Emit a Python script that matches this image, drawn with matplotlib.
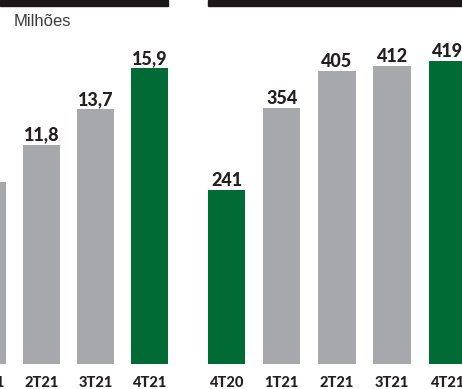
import matplotlib.pyplot as plt
from matplotlib.patches import Rectangle

# left chart (values in millions)
left_cats = ["1T21", "2T21", "3T21", "4T21"]
left_vals = [9.8, 11.8, 13.7, 15.9]
left_pos = [1, 2, 3, 4]
left_labels = ["", "11,8", "13,7", "15,9"]  # 1T21 value is cut off in the source

# right chart
right_cats = ["4T20", "1T21", "2T21", "3T21", "4T21"]
right_vals = [241, 354, 405, 412, 419]
right_pos = [0, 1, 2, 3, 4]
right_labels = ["241", "354", "405", "412", "419"]

GREEN = "#006b35"
GRAY = "#a7a8ab"
TXT = "#231f20"

plt.rcParams['font.family'] = ['Lato', 'DejaVu Sans']

W, H = 462, 389
fig = plt.figure(figsize=(W / 100, H / 100), dpi=100)

bottom = (H - 364) / H


def draw(ax, pos, vals, cats, labels, greens, ylim):
    cols = [GREEN if c in greens else GRAY for c in cats]
    ax.bar(pos, vals, width=0.68, color=cols)
    ax.set_ylim(0, ylim)
    for x, v, lab, c in zip(pos, vals, labels, cats):
        ax.annotate(lab, (x, v), xytext=(0, 3), textcoords="offset points",
                    ha="center", va="baseline", fontsize=13, fontweight="black",
                    color=TXT, annotation_clip=False)
        ax.annotate(c, (x, 0), xytext=(0, -16.5), textcoords="offset points",
                    ha="center", va="baseline", fontsize=10.5, fontweight="black",
                    color=TXT, annotation_clip=False)
    ax.set_xticks([])
    ax.set_yticks([])
    for s in ax.spines.values():
        s.set_visible(False)
    ax.patch.set_alpha(0)


# left axes: px 0..185
axl = fig.add_axes([0, bottom, 185 / W, 1 - bottom])
axl.set_xlim(4 - 149.5 / 54, 4 + 35.5 / 54)
draw(axl, left_pos, left_vals, left_cats, left_labels, ["4T21"], 364 / 18.6)

# right axes: px 190..462
axr = fig.add_axes([190 / W, bottom, 272 / W, 1 - bottom])
axr.set_xlim((190 - 226.5) / 55.2, (462 - 226.5) / 55.2)
draw(axr, right_pos, right_vals, right_cats, right_labels, ["4T20", "4T21"], 364 / 0.723)

# title bands cut off at the top
fig.patches.append(Rectangle((0, 1 - 6 / H), 168 / W, 6 / H, transform=fig.transFigure,
                             color="#1a1818", zorder=5))
fig.patches.append(Rectangle((208 / W, 1 - 6 / H), (W - 208) / W, 6 / H,
                             transform=fig.transFigure, color="#1a1818", zorder=5))

fig.text(14 / W, 1 - 26 / H, "Milhões", fontsize=12, color="#3c3c3c", va="baseline",
         family=["Liberation Sans", "DejaVu Sans"])

fig.savefig("out.png", dpi=100)
